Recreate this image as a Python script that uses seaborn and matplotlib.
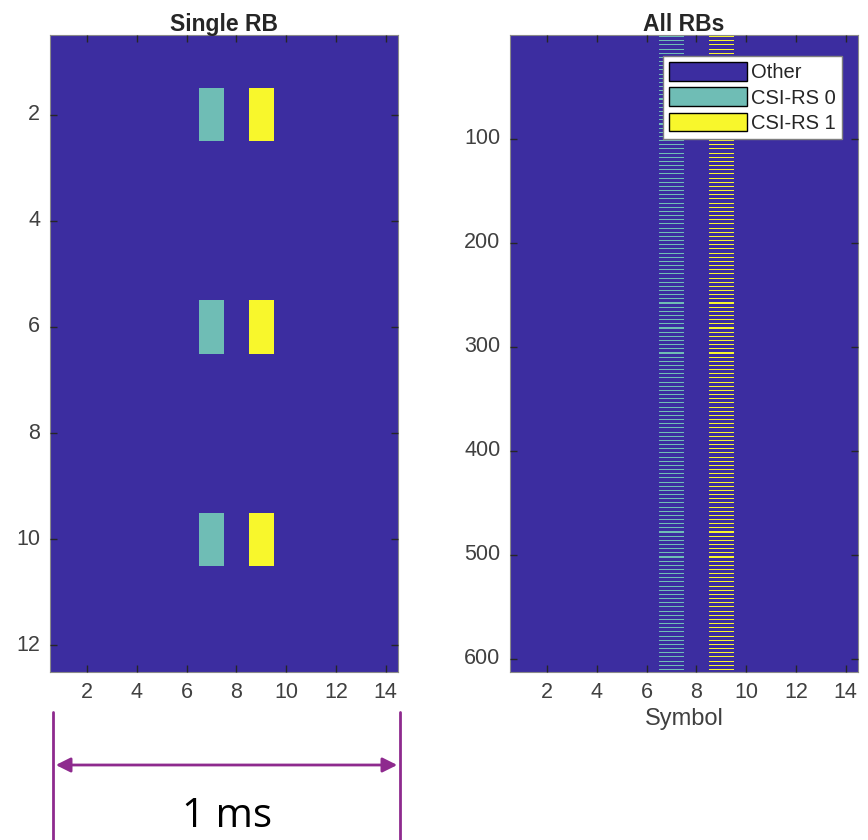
import matplotlib
matplotlib.use("Agg")
import matplotlib.pyplot as plt
import matplotlib.patches as mpatches
from matplotlib.colors import ListedColormap
import seaborn as sns
import numpy as np
import pandas as pd

# resource grid layout
n_symbols = 14
n_sc_per_rb = 12
n_rb = 51
csi0_symbol = 7
csi1_symbol = 9
csi_subcarriers = [2, 6, 10]   # within one RB (1-based)

labels = ["Other", "CSI-RS 0", "CSI-RS 1"]
colors = ["#3C2DA0", "#6FBDB5", "#F8F72C"]

single_yticks = [2, 4, 6, 8, 10, 12]
all_yticks = [100, 200, 300, 400, 500, 600]
xticks = [2, 4, 6, 8, 10, 12, 14]


def build_grid(n_rows):
    grid = np.zeros((n_rows, n_symbols), dtype=int)
    for rb in range(n_rows // n_sc_per_rb):
        for sc in csi_subcarriers:
            row = rb * n_sc_per_rb + sc - 1
            grid[row, csi0_symbol - 1] = 1
            grid[row, csi1_symbol - 1] = 2
    return pd.DataFrame(grid, index=np.arange(1, n_rows + 1),
                        columns=np.arange(1, n_symbols + 1))


single_rb = build_grid(n_sc_per_rb)
all_rbs = build_grid(n_sc_per_rb * n_rb)

sns.set_theme(style="white")
plt.rcParams['font.family'] = ['Liberation Sans', 'DejaVu Sans']

cmap = ListedColormap(colors)
fig = plt.figure(figsize=(8.68, 8.40), dpi=100)
ax1 = fig.add_axes([50 / 868, 1 - 672 / 840, 348 / 868, 637 / 840])
ax2 = fig.add_axes([510 / 868, 1 - 672 / 840, 348 / 868, 637 / 840])

for ax, data, yt, title in [(ax1, single_rb, single_yticks, "Single RB"),
                            (ax2, all_rbs, all_yticks, "All RBs")]:
    ax.set_facecolor(colors[0])
    sns.heatmap(data, ax=ax, cmap=cmap, vmin=-0.5, vmax=2.5, cbar=False,
                linewidths=0, linecolor="face", rasterized=True)
    ax.set_axisbelow(False)
    ax.set_xticks([x - 0.5 for x in xticks])
    ax.set_xticklabels([str(x) for x in xticks], rotation=0)
    ax.set_yticks([y - 0.5 for y in yt])
    ax.set_yticklabels([str(y) for y in yt], rotation=0)
    ax.set_xlabel("")
    ax.set_ylabel("")
    ax.tick_params(direction="in", length=5, width=1, color="#262626",
                   bottom=True, left=True, top=True, right=True,
                   labelsize=15.5, labelcolor="#404040", pad=7)
    for s in ax.spines.values():
        s.set_visible(True)
        s.set_color("#8a8a8a")
        s.set_linewidth(0.8)
    ax.set_title(title, fontsize=16.5, fontweight="bold", pad=3)

ax2.set_xlabel("Symbol", fontsize=17, color="#404040", labelpad=4)

handles = [mpatches.Patch(facecolor=c, edgecolor="black", linewidth=1, label=l)
           for c, l in zip(colors, labels)]
ax2.legend(handles=handles, loc="upper right", bbox_to_anchor=(0.954, 0.967),
           fontsize=14.5, frameon=True, fancybox=False, edgecolor="#7f7f7f",
           framealpha=1, facecolor="white",
           handlelength=3.9, handleheight=1.05, handletextpad=0.2,
           labelspacing=0.25, borderpad=0.3, borderaxespad=0)

# 1 ms bracket under the single-RB panel
purple = "#8E2A8E"
xl, xr = 53 / 868, 400 / 868
for x in (xl, xr):
    fig.add_artist(plt.Line2D([x, x], [0, 1 - 712 / 840], transform=fig.transFigure,
                              color=purple, linewidth=2))
fig.add_artist(mpatches.FancyArrowPatch((xl, 1 - 765 / 840), (xr, 1 - 765 / 840),
                                        transform=fig.transFigure,
                                        arrowstyle="<|-|>", mutation_scale=22,
                                        color=purple, linewidth=2))
fig.text((xl + xr) / 2, 1 - 817 / 840, "1 ms", ha="center", va="center",
         fontsize=29, color="black", family=["Open Sans", "DejaVu Sans"])

fig.savefig("out.png", dpi=100)
